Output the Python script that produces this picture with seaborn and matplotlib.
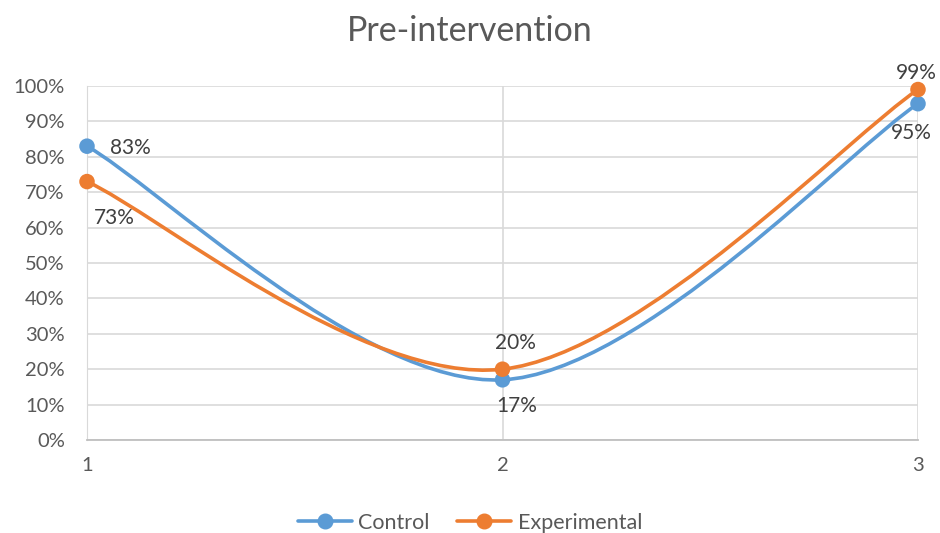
import numpy as np
import pandas as pd
import seaborn as sns
import matplotlib.pyplot as plt
from matplotlib.path import Path
from matplotlib.patches import PathPatch
from matplotlib.lines import Line2D

# data
sessions = [1, 2, 3]
control = [0.83, 0.17, 0.95]
experimental = [0.73, 0.20, 0.99]
series_names = ["Control", "Experimental"]
colors = {"Control": "#5B9BD5", "Experimental": "#ED7D31"}
title = "Pre-intervention"

# label placement (offset in points) per series, per point
label_offsets = {
    "Control": [(31, -1), (10, -19), (-5, -21)],
    "Experimental": [(20, -26), (9, 19), (-1, 12)],
}

df = pd.DataFrame({
    "session": sessions * 2,
    "value": control + experimental,
    "group": ["Control"] * 3 + ["Experimental"] * 3,
})


def smooth_path(xs, ys):
    # excel style smoothed line: catmull-rom segments as cubic beziers
    pts = np.column_stack([xs, ys]).astype(float)
    ext = np.vstack([pts[0], pts, pts[-1]])
    verts = [pts[0]]
    codes = [Path.MOVETO]
    for i in range(len(pts) - 1):
        p0, p1, p2, p3 = ext[i], ext[i + 1], ext[i + 2], ext[i + 3]
        c1 = p1 + (p2 - p0) / 6
        c2 = p2 - (p3 - p1) / 6
        verts += [c1, c2, p2]
        codes += [Path.CURVE4] * 3
    return Path(verts, codes)


sns.set_style("white")
plt.rcParams["font.family"] = ["Lato", "DejaVu Sans"]

fig = plt.figure(figsize=(9.4, 5.33), dpi=100)
ax = fig.add_axes([87 / 940, 1 - 440 / 533, (918 - 87) / 940, (440 - 86) / 533])

for name in series_names:
    sub = df[df["group"] == name]
    patch = PathPatch(smooth_path(sub["session"], sub["value"]), fill=False,
                      edgecolor=colors[name], lw=2.6, capstyle="round", zorder=3)
    ax.add_patch(patch)

sns.scatterplot(data=df, x="session", y="value", hue="group", palette=colors,
                s=125, edgecolor="none", legend=False, ax=ax, zorder=4, clip_on=False)

for name in series_names:
    sub = df[df["group"] == name].reset_index(drop=True)
    for i, row in sub.iterrows():
        ax.annotate(f"{row['value']:.0%}", (row["session"], row["value"]),
                    xytext=label_offsets[name][i], textcoords="offset points",
                    ha="center", va="center", fontsize=15, color="#404040")

ax.set_xlim(1, 3)
ax.set_ylim(0, 1)
ax.set_xticks(sessions)
ax.set_yticks(np.arange(0, 1.01, 0.1))
ax.set_yticklabels([f"{int(round(v * 100))}%" for v in np.arange(0, 1.01, 0.1)])
ax.grid(True, color="#D9D9D9", lw=1.2)
ax.set_axisbelow(True)
for side in ["top", "right"]:
    ax.spines[side].set_visible(False)
ax.spines["left"].set_color("#D9D9D9")
ax.spines["bottom"].set_color("#BFBFBF")
ax.spines["bottom"].set_linewidth(1.3)
ax.tick_params(axis="both", length=0, labelsize=14.5, labelcolor="#595959")
ax.tick_params(axis="y", pad=16)
ax.tick_params(axis="x", pad=12)
ax.set_xlabel("")
ax.set_ylabel("")

fig.text(0.5, 1 - 31 / 533, title, ha="center", va="center", fontsize=24.5, color="#595959")

handles = [Line2D([0], [0], color=colors[n], lw=2.6, marker="o", markersize=10.5) for n in series_names]
fig.legend(handles, series_names, loc="center", bbox_to_anchor=(0.5, 1 - 523 / 533), ncol=2,
           frameon=False, fontsize=15.5, labelcolor="#595959", handlelength=2.5,
           columnspacing=1.3, handletextpad=0.3)

fig.savefig("out.png", dpi=100)
